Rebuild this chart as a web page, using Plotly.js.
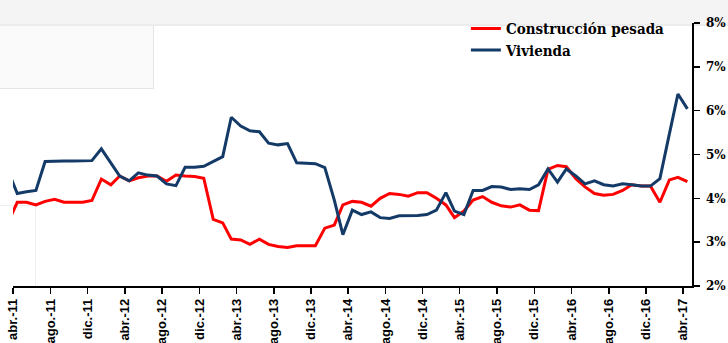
<!DOCTYPE html>
<html>
<head>
<meta charset="utf-8">
<script src="https://cdn.plot.ly/plotly-3.0.1.min.js"></script>
<style>
  html, body { margin: 0; padding: 0; background: #ffffff; }
  #wrap { position: relative; width: 728px; height: 343px; overflow: hidden; }
  .bg { position: absolute; }
  #chart { position: absolute; left: 0; top: 0; width: 728px; height: 343px; }
</style>
</head>
<body>
<div id="wrap">
  <div class="bg" style="left:0;top:0;width:728px;height:24px;background:#f4f4f4;"></div>
  <div class="bg" style="left:0;top:24px;width:728px;height:2px;background:#ececec;"></div>
  <div class="bg" style="left:0;top:26px;width:153px;height:62px;background:#fafafa;border-right:1px solid #e4e4e4;border-bottom:1px solid #e4e4e4;"></div>
  <div class="bg" style="left:0;top:205px;width:35px;height:80px;border-right:1px solid #eeeeee;border-top:1px solid #eeeeee;"></div>
  <div id="chart"></div>
</div>
<script>
// Months (series are monthly; first value falls before the axis start and is clipped)
const months = [
  "2011-03","2011-04","2011-05","2011-06","2011-07","2011-08","2011-09","2011-10","2011-11","2011-12",
  "2012-01","2012-02","2012-03","2012-04","2012-05","2012-06","2012-07","2012-08","2012-09","2012-10","2012-11","2012-12",
  "2013-01","2013-02","2013-03","2013-04","2013-05","2013-06","2013-07","2013-08","2013-09","2013-10","2013-11","2013-12",
  "2014-01","2014-02","2014-03","2014-04","2014-05","2014-06","2014-07","2014-08","2014-09","2014-10","2014-11","2014-12",
  "2015-01","2015-02","2015-03","2015-04","2015-05","2015-06","2015-07","2015-08","2015-09","2015-10","2015-11","2015-12",
  "2016-01","2016-02","2016-03","2016-04","2016-05","2016-06","2016-07","2016-08","2016-09","2016-10","2016-11","2016-12",
  "2017-01","2017-02","2017-03","2017-04"
];

// Construcción pesada (%)
const construccionPesada = [
  3.44, 3.91, 3.91, 3.85, 3.93, 3.98, 3.91, 3.91, 3.91, 3.95,
  4.44, 4.31, 4.51, 4.40, 4.47, 4.51, 4.51, 4.39, 4.53, 4.51, 4.50, 4.46,
  3.52, 3.44, 3.07, 3.05, 2.95, 3.07, 2.95, 2.90, 2.88, 2.92, 2.92, 2.92,
  3.32, 3.39, 3.85, 3.93, 3.91, 3.82, 4.00, 4.11, 4.09, 4.05, 4.13, 4.13,
  4.00, 3.85, 3.56, 3.71, 3.96, 4.04, 3.91, 3.83, 3.80, 3.85, 3.73, 3.72,
  4.66, 4.75, 4.72, 4.45, 4.26, 4.11, 4.07, 4.09, 4.18, 4.31, 4.28, 4.28,
  3.91, 4.42, 4.48, 4.38
];

// Vivienda (%)
const vivienda = [
  4.64, 4.11, 4.15, 4.18, 4.84, 4.85, 4.85, 4.85, 4.86, 4.86,
  5.13, 4.80, 4.51, 4.40, 4.58, 4.53, 4.51, 4.33, 4.29, 4.71, 4.71, 4.73,
  4.84, 4.95, 5.85, 5.65, 5.54, 5.52, 5.26, 5.22, 5.25, 4.81, 4.80, 4.79,
  4.70, 3.96, 3.17, 3.73, 3.63, 3.69, 3.56, 3.54, 3.60, 3.60, 3.61, 3.63,
  3.73, 4.13, 3.71, 3.63, 4.18, 4.18, 4.27, 4.26, 4.20, 4.22, 4.20, 4.31,
  4.67, 4.37, 4.67, 4.51, 4.33, 4.40, 4.31, 4.28, 4.33, 4.31, 4.28, 4.28,
  4.45, 5.47, 6.38, 6.04
];

// X tick labels
const tickMonths = [
  "2011-04","2011-08","2011-12","2012-04","2012-08","2012-12","2013-04","2013-08","2013-12",
  "2014-04","2014-08","2014-12","2015-04","2015-08","2015-12","2016-04","2016-08","2016-12","2017-04"
];
const tickText = [
  "abr.-11","ago.-11","dic.-11","abr.-12","ago.-12","dic.-12","abr.-13","ago.-13","dic.-13",
  "abr.-14","ago.-14","dic.-14","abr.-15","ago.-15","dic.-15","abr.-16","ago.-16","dic.-16","abr.-17"
];
const yTicks = [2, 3, 4, 5, 6, 7, 8];

const xDates = months.map(m => m + "-15");
const tickVals = tickMonths.map(m => m + "-01");

const traces = [
  {
    x: xDates, y: construccionPesada, type: "scatter", mode: "lines",
    name: "Construcción pesada",
    line: { color: "#ff0000", width: 3 },
    legend: "legend"
  },
  {
    x: xDates, y: vivienda, type: "scatter", mode: "lines",
    name: "Vivienda",
    line: { color: "#143a68", width: 3 },
    legend: "legend2"
  }
];

const legendFont = { family: "DejaVu Serif Condensed, DejaVu Serif, serif", size: 15, color: "#000000" };

const layout = {
  width: 728, height: 343,
  margin: { l: 13, r: 36, t: 13, b: 57 },
  paper_bgcolor: "rgba(0,0,0,0)",
  plot_bgcolor: "rgba(0,0,0,0)",
  showlegend: true,
  legend: {
    x: 0.667, y: 0.978, xanchor: "left", yanchor: "middle",
    bgcolor: "rgba(0,0,0,0)", borderwidth: 0,
    font: Object.assign({ weight: "bold" }, legendFont)
  },
  legend2: {
    x: 0.667, y: 0.896, xanchor: "left", yanchor: "middle",
    bgcolor: "rgba(0,0,0,0)", borderwidth: 0,
    font: Object.assign({ weight: "bold" }, legendFont)
  },
  xaxis: {
    type: "date",
    range: ["2011-04-01", "2017-04-30"],
    tickvals: tickVals, ticktext: tickText,
    tickangle: -90,
    ticks: "outside", ticklen: 6, tickwidth: 1.5, tickcolor: "#000000",
    showline: true, linecolor: "#000000", linewidth: 1.5,
    showgrid: false, zeroline: false,
    tickfont: { family: "Liberation Sans, Arial, sans-serif", size: 13, color: "#000000", weight: "bold" }
  },
  yaxis: {
    side: "right",
    range: [2, 8],
    tickvals: yTicks,
    ticktext: yTicks.map(v => v + "%"),
    ticks: "outside", ticklen: 6, tickwidth: 1.5, tickcolor: "#000000",
    ticklabelstandoff: 4,
    showline: true, linecolor: "#000000", linewidth: 1.5,
    showgrid: false, zeroline: false,
    tickfont: { family: "DejaVu Serif, serif", size: 12, color: "#000000", weight: "bold" }
  }
};

Plotly.newPlot("chart", traces, layout, { staticPlot: true, displayModeBar: false });
</script>
</body>
</html>
